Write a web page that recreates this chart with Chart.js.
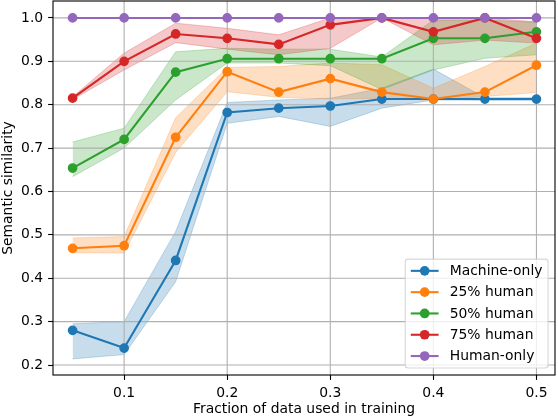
<!DOCTYPE html>
<html><head><meta charset="utf-8">
<script src="https://cdn.jsdelivr.net/npm/chart.js@4.4.0/dist/chart.umd.min.js"></script>
<style>html,body{margin:0;padding:0;background:#fff;}canvas{display:block}</style>
</head><body>
<canvas id="c" width="558" height="420"></canvas>
<script>
// ---- data ----
const fractions = [0.05, 0.1, 0.15, 0.2, 0.25, 0.3, 0.35, 0.4, 0.45, 0.5];
const xTicks = [0.1, 0.2, 0.3, 0.4, 0.5];
const yTicks = [0.2, 0.3, 0.4, 0.5, 0.6, 0.7, 0.8, 0.9, 1.0];
const seriesLabels = ['Machine-only', '25% human', '50% human', '75% human', 'Human-only'];

const machineOnly = [0.280, 0.239, 0.441, 0.782, 0.792, 0.797, 0.813, 0.813, 0.813, 0.813];
const machineLow  = [0.214, 0.224, 0.392, 0.757, 0.773, 0.750, 0.792, 0.811, 0.810, 0.810];
const machineHigh = [0.295, 0.300, 0.508, 0.805, 0.811, 0.815, 0.838, 0.882, 0.816, 0.816];

const human25     = [0.469, 0.475, 0.725, 0.876, 0.829, 0.860, 0.829, 0.813, 0.829, 0.891];
const human25Low  = [0.459, 0.458, 0.690, 0.830, 0.817, 0.813, 0.815, 0.810, 0.819, 0.828];
const human25High = [0.493, 0.496, 0.770, 0.886, 0.888, 0.896, 0.892, 0.838, 0.888, 0.942];

const human50     = [0.654, 0.720, 0.875, 0.906, 0.906, 0.906, 0.906, 0.953, 0.953, 0.968];
const human50Low  = [0.634, 0.700, 0.811, 0.896, 0.896, 0.890, 0.835, 0.880, 0.907, 0.915];
const human50High = [0.714, 0.746, 0.922, 0.930, 0.928, 0.928, 0.910, 0.995, 0.995, 0.990];

const human75     = [0.815, 0.900, 0.963, 0.953, 0.939, 0.984, 1.000, 0.968, 1.000, 0.953];
const human75Low  = [0.812, 0.880, 0.943, 0.928, 0.915, 0.930, 1.000, 0.938, 0.949, 0.942];
const human75High = [0.818, 0.919, 0.988, 0.976, 0.961, 1.000, 1.000, 1.000, 1.000, 0.991];

const humanOnly   = [1.0, 1.0, 1.0, 1.0, 1.0, 1.0, 1.0, 1.0, 1.0, 1.0];

// ---- styles ----
const colors = ['#1f77b4', '#ff7f0e', '#2ca02c', '#d62728', '#9467bd'];
const FS = 13.9;
Chart.defaults.font.family = "'DejaVu Sans', sans-serif";
Chart.defaults.font.size = FS;
Chart.defaults.color = '#000';

function rgba(hex, a) {
  const n = parseInt(hex.slice(1), 16);
  return `rgba(${(n >> 16) & 255},${(n >> 8) & 255},${n & 255},${a})`;
}
const pts = arr => fractions.map((x, i) => ({ x: x, y: arr[i] }));

const means = [machineOnly, human25, human50, human75, humanOnly];
const lows  = [machineLow, human25Low, human50Low, human75Low, null];
const highs = [machineHigh, human25High, human50High, human75High, null];

const datasets = [];
lows.forEach((lo, k) => {
  if (!lo) return;
  datasets.push({ data: pts(lo), borderColor: rgba(colors[k], 0.25), borderWidth: 1,
    pointRadius: 0, fill: false, order: 20 - k, isBand: true });
  datasets.push({ data: pts(highs[k]), borderColor: rgba(colors[k], 0.25), borderWidth: 1,
    pointRadius: 0, fill: '-1', backgroundColor: rgba(colors[k], 0.25), order: 20 - k, isBand: true });
});
means.forEach((m, k) => {
  datasets.push({ label: seriesLabels[k], data: pts(m), borderColor: colors[k], backgroundColor: colors[k],
    borderWidth: 2.08, pointRadius: 4.15, pointBorderWidth: 1.4,
    pointBackgroundColor: colors[k], pointBorderColor: colors[k],
    fill: false, order: 5 - k, gridBefore: k === 0, legendColor: colors[k] });
});

const gridFrame = {
  id: 'gridFrame',
  beforeDatasetDraw(chart, args) {
    const ds = chart.data.datasets[args.index];
    if (!ds.gridBefore) return;
    const ctx = chart.ctx, a = chart.chartArea;
    const xs = chart.scales.x, ys = chart.scales.y;
    ctx.save();
    ctx.strokeStyle = '#b0b0b0';
    ctx.lineWidth = 1.1;
    ctx.beginPath();
    xs.ticks.forEach(t => { const p = xs.getPixelForValue(t.value); ctx.moveTo(p, a.top); ctx.lineTo(p, a.bottom); });
    ys.ticks.forEach(t => { const p = ys.getPixelForValue(t.value); ctx.moveTo(a.left, p); ctx.lineTo(a.right, p); });
    ctx.stroke();
    ctx.restore();
  },
  afterDatasetsDraw(chart) {
    const ctx = chart.ctx, a = chart.chartArea;
    ctx.save();
    ctx.strokeStyle = '#000';
    ctx.lineWidth = 1.1;
    ctx.strokeRect(a.left, a.top, a.right - a.left, a.bottom - a.top);
    ctx.restore();
  }
};

const boxLegend = {
  id: 'boxLegend',
  afterDraw(chart) {
    const ctx = chart.ctx, a = chart.chartArea;
    const items = chart.data.datasets.filter(d => d.legendColor);
    ctx.save();
    ctx.font = `${FS}px 'DejaVu Sans', sans-serif`;
    const pad = 0.4 * FS, handle = 2 * FS, tpad = 0.8 * FS;
    const maxW = Math.max(...items.map(d => ctx.measureText(d.label).width));
    const w = pad + handle + tpad + maxW + pad;
    const pitch = 21.3, firstOff = 11.7, lastOff = 12;
    const h = firstOff + pitch * (items.length - 1) + lastOff;
    const right = a.right - 0.5 * FS, bottom = a.bottom - 0.5 * FS;
    const left = right - w, top = bottom - h;
    ctx.beginPath();
    ctx.roundRect(left, top, w, h, 3);
    ctx.fillStyle = 'rgba(255,255,255,0.8)';
    ctx.fill();
    ctx.strokeStyle = 'rgba(204,204,204,0.8)';
    ctx.lineWidth = 1.1;
    ctx.stroke();
    items.forEach((d, i) => {
      const cy = top + firstOff + i * pitch;
      const hx = left + pad;
      ctx.strokeStyle = d.legendColor;
      ctx.lineWidth = 2.08;
      ctx.beginPath(); ctx.moveTo(hx, cy); ctx.lineTo(hx + handle, cy); ctx.stroke();
      ctx.fillStyle = d.legendColor;
      ctx.beginPath(); ctx.arc(hx + handle / 2, cy, 4.85, 0, Math.PI * 2); ctx.fill();
      ctx.fillStyle = '#000';
      ctx.textBaseline = 'middle';
      ctx.textAlign = 'left';
      ctx.fillText(d.label, hx + handle + tpad, cy + 0.5);
    });
    ctx.restore();
  }
};

new Chart(document.getElementById('c'), {
  type: 'line',
  data: { datasets },
  options: {
    responsive: false,
    animation: false,
    events: [],
    layout: { autoPadding: false, padding: { left: 0, top: 1, right: 3, bottom: 0 } },
    elements: { line: { tension: 0 } },
    plugins: { legend: { display: false }, tooltip: { enabled: false } },
    scales: {
      x: {
        type: 'linear', min: 0.031, max: 0.518,
        afterBuildTicks: s => { s.ticks = xTicks.map(v => ({ value: v })); },
        afterFit: s => { s.height = 45; s.paddingLeft = 0; s.paddingRight = 0; },
        ticks: { callback: v => v.toFixed(1), color: '#000', padding: 4.9, maxRotation: 0, autoSkip: false },
        grid: { drawOnChartArea: false, drawTicks: true, tickLength: 4.9, tickColor: '#000', tickWidth: 1.1 },
        border: { display: false },
        title: { display: true, text: 'Fraction of data used in training', color: '#000', padding: { top: 0, bottom: 2 } }
      },
      y: {
        type: 'linear', min: 0.177, max: 1.039,
        afterBuildTicks: s => { s.ticks = yTicks.map(v => ({ value: v })); },
        afterFit: s => { s.width = 53; s.paddingTop = 0; s.paddingBottom = 0; },
        ticks: { callback: v => v.toFixed(1), color: '#000', padding: 4.9, autoSkip: false },
        grid: { drawOnChartArea: false, drawTicks: true, tickLength: 4.9, tickColor: '#000', tickWidth: 1.1 },
        border: { display: false },
        title: { display: true, text: 'Semantic similarity', color: '#000', padding: { top: 0, bottom: 0 } }
      }
    }
  },
  plugins: [gridFrame, boxLegend]
});
</script>
</body></html>
